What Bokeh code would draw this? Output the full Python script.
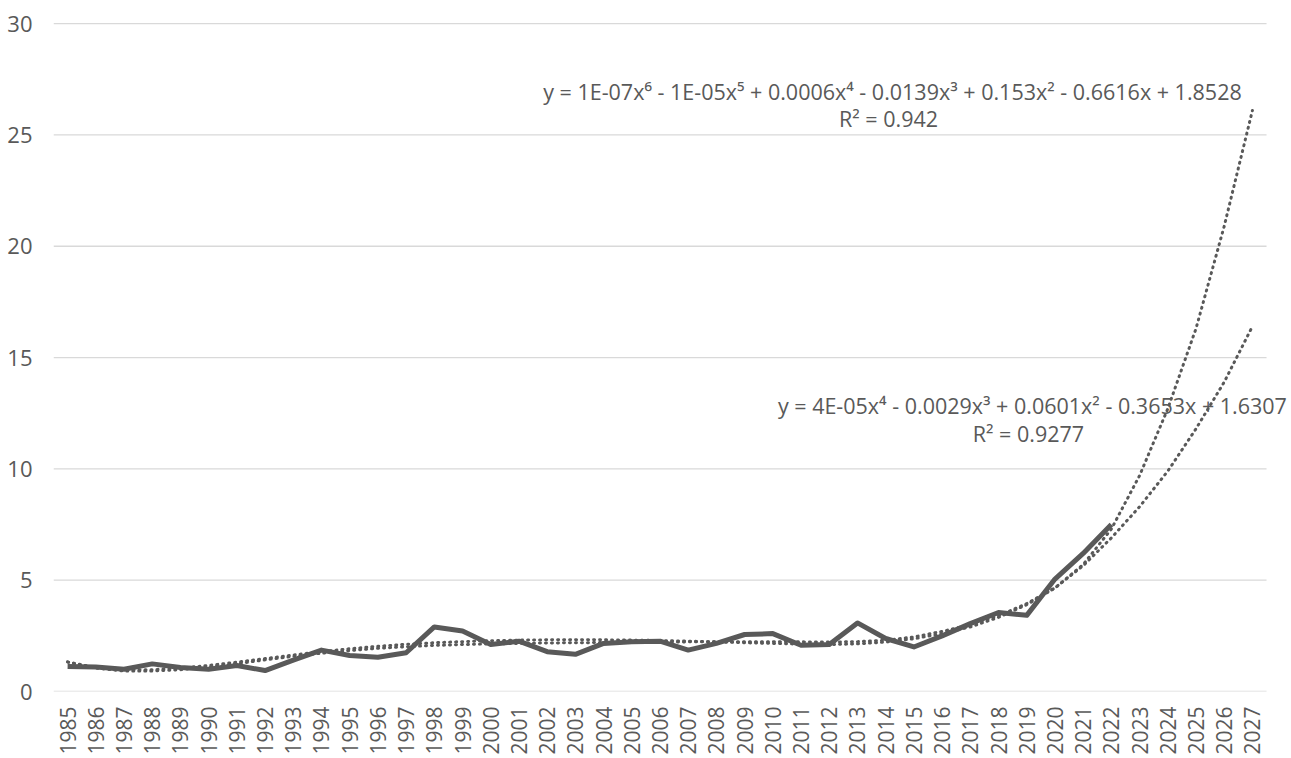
from bokeh.plotting import figure
from bokeh.models import Range1d, Label, FixedTicker
from bokeh.embed import file_html
from bokeh.resources import INLINE
import math

years = list(range(1985, 2028))

values = [1.12, 1.10, 1.00, 1.24, 1.08, 1.00, 1.17, 0.94, 1.41, 1.86,
          1.62, 1.54, 1.74, 2.90, 2.72, 2.11, 2.26, 1.79, 1.67, 2.16,
          2.23, 2.26, 1.86, 2.16, 2.56, 2.60, 2.08, 2.11, 3.08, 2.38,
          2.00, 2.50, 3.05, 3.55, 3.42, 5.05, 6.20, 7.50]

trend_poly6 = [1.33, 1.05, 0.92, 0.92, 0.98, 1.10, 1.25, 1.42, 1.58, 1.72,
               1.84, 1.94, 2.01, 2.07, 2.11, 2.14, 2.16, 2.18, 2.19, 2.20,
               2.21, 2.22, 2.23, 2.24, 2.24, 2.24, 2.23, 2.22, 2.24, 2.30,
               2.45, 2.70, 3.00, 3.40, 3.95, 4.65, 5.70, 7.30, 9.70, 12.70,
               16.30, 20.90, 26.10]

trend_poly4 = [1.32, 1.08, 0.98, 0.98, 1.05, 1.17, 1.32, 1.48, 1.64, 1.79,
               1.92, 2.03, 2.12, 2.19, 2.24, 2.28, 2.31, 2.32, 2.33, 2.32,
               2.31, 2.29, 2.26, 2.23, 2.19, 2.16, 2.13, 2.11, 2.14, 2.22,
               2.37, 2.60, 2.90, 3.33, 3.90, 4.65, 5.65, 6.90, 8.30, 9.90,
               11.80, 13.90, 16.40]

eq6 = "y = 1E-07x\u2076 - 1E-05x\u2075 + 0.0006x\u2074 - 0.0139x\u00b3 + 0.153x\u00b2 - 0.6616x + 1.8528"
r2_6 = "R\u00b2 = 0.942"
eq4 = "y = 4E-05x\u2074 - 0.0029x\u00b3 + 0.0601x\u00b2 - 0.3653x + 1.6307"
r2_4 = "R\u00b2 = 0.9277"

y_ticks = [0, 5, 10, 15, 20, 25, 30]

GRAY = "#595959"
GRID = "#d9d9d9"
FONT = "Open Sans"

x_lo = years[0] - 0.5
x_hi = years[-1] + 0.5

p = figure(width=1290, height=757, output_backend="svg", toolbar_location=None,
           x_range=Range1d(x_lo, x_hi + 0.85),
           y_range=Range1d(0, 30.05),
           min_border_left=53, min_border_right=0, min_border_top=22, min_border_bottom=62)
p.outline_line_color = None
p.background_fill_color = "white"
p.border_fill_color = "white"

p.xgrid.visible = False
p.ygrid.visible = False
p.xaxis.ticker = FixedTicker(ticks=years)
p.yaxis.ticker = FixedTicker(ticks=y_ticks)

for ax in (p.xaxis, p.yaxis):
    ax.axis_line_color = None
    ax.major_tick_line_color = None
    ax.minor_tick_line_color = None
    ax.major_label_text_color = GRAY
    ax.major_label_text_font = FONT

p.yaxis.major_label_text_font_size = "22px"
p.yaxis.major_label_standoff = 15
p.xaxis.major_label_text_font_size = "21px"
p.xaxis.major_label_standoff = 9
p.xaxis.major_label_orientation = math.pi / 2

# horizontal gridlines spanning the category area only
p.segment(x0=[x_lo] * len(y_ticks), x1=[x_hi] * len(y_ticks), y0=y_ticks, y1=y_ticks,
          line_color=GRID, line_width=1.3)

p.line(years, trend_poly6, line_color=GRAY, line_width=3, line_dash="1 5", line_cap="round")
p.line(years, trend_poly4, line_color=GRAY, line_width=3, line_dash="1 5", line_cap="round")
p.line(years[:len(values)], values, line_color=GRAY, line_width=5, line_join="round")

def add_label(x, y, text):
    p.add_layout(Label(x=x, y=y, text=text, text_align="center", text_baseline="middle",
                       text_font=FONT, text_font_size="21.5px", text_color=GRAY))

add_label(x_lo + 29.74, 26.96, eq6)
add_label(x_lo + 29.6, 25.75, r2_6)
add_label(x_lo + 34.7, 12.86, eq4)
add_label(x_lo + 34.56, 11.61, r2_4)

open("out.html", "w").write(file_html(p, INLINE))
